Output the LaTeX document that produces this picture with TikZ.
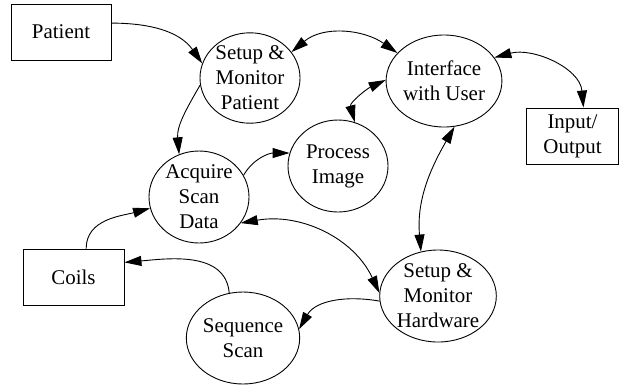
\documentclass[tikz,border=0pt]{standalone}
\usepackage{fontspec}
\setmainfont{Liberation Serif}
\usetikzlibrary{shapes.geometric,arrows.meta}
\begin{document}
\begin{tikzpicture}[x=1bp,y=-1bp,
  proc/.style={ellipse,draw,line width=0.9pt,minimum width=100bp,minimum height=92bp,inner sep=0pt,align=center,font=\fontsize{21}{25}\selectfont},
  ext/.style={rectangle,draw,line width=0.9pt,inner sep=0pt,align=center,font=\fontsize{21}{25}\selectfont,minimum height=56bp},
  flow/.style={line width=0.9pt,-{Triangle[length=17bp,width=10bp]}},
  bflow/.style={line width=0.9pt,{Triangle[length=17bp,width=10bp]}-{Triangle[length=17bp,width=10bp]}}]
\useasboundingbox (0,0) rectangle (619,386);
\node[ext,minimum width=100bp] (pat) at (61,32) {Patient};
\node[ext,minimum width=101bp] (coils) at (73.5,277) {Coils};
\node[ext,minimum width=92bp] (io) at (572.5,136) {Input/\\Output};
\node[proc,minimum height=88bp] (sp) at (250,78) {Setup \&\\Monitor\\Patient};
\node[proc] (iu) at (444,81) {Interface\\with User};
\node[proc] (pi) at (338,166) {Process\\Image};
\node[proc] (aq) at (199,197) {Acquire\\Scan\\Data};
\node[proc] (sh) at (438,296) {Setup \&\\Monitor\\Hardware};
\node[proc] (ss) at (243,338) {Sequence\\Scan};
\draw[flow] (pat.10) to[out=0,in=125] (sp.163);
\draw[bflow] (sp.32) to[out=40,in=145] (iu.149);
\draw[bflow] (iu.25) to[out=15,in=95] (io.69);
\draw[bflow] (pi.69) to[out=105,in=205] (iu.179);
\draw[flow] (sp.188) to[out=240,in=95] (aq.115);
\draw[flow] (aq.26) to[out=60,in=180] (pi.165);
\draw[flow] (coils.66) to[out=90,in=195] (aq.193);
\draw[bflow] (aq.328) to[out=10,in=115] (sh.177);
\draw[bflow] (iu.283) to[out=240,in=95] (sh.111);
\draw[flow] (sh.185) to[out=170,in=60] (ss.9);
\draw[flow] (ss.107) to[out=95,in=5] (coils.16);
\end{tikzpicture}
\end{document}
